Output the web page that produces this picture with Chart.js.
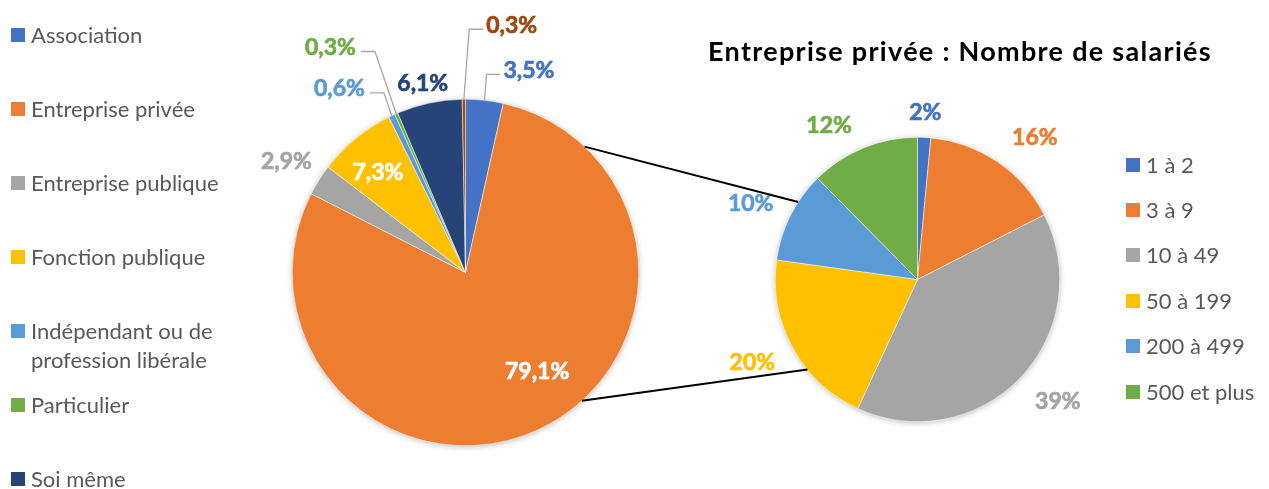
<!DOCTYPE html>
<html lang="fr">
<head>
<meta charset="utf-8">
<script src="https://cdn.jsdelivr.net/npm/chart.js@4/dist/chart.umd.min.js"></script>
<style>
  html, body { margin: 0; padding: 0; background: #fff; }
  body { width: 1269px; height: 489px; position: relative; overflow: hidden; font-family: Lato, "Open Sans", sans-serif; }
  canvas { position: absolute; left: 0; top: 0; }
  #title { position: absolute; left: 660px; width: 600px; top: 33px; text-align: center; font-weight: bold; font-size: 27px; letter-spacing: 1.3px; line-height: 36px; color: #000; white-space: nowrap; }
  .leg { position: absolute; font-size: 22px; line-height: 29px; color: #595959; }
  .leg .sw { position: absolute; left: 0; top: 8px; width: 14px; height: 14px; }
  .leg .tx { display: block; margin-left: 20px; }
</style>
</head>
<body>
<canvas id="pieLeft" width="1269" height="489"></canvas>
<canvas id="pieRight" width="1269" height="489"></canvas>
<div id="title">Entreprise privée : Nombre de salariés</div>
<div id="legendLeft"></div>
<div id="legendRight"></div>
<script>
// Statut de l'employeur (%)
const sectorLabels = ["Association", "Entreprise privée", "Entreprise publique", "Fonction publique", "Indépendant ou de profession libérale", "Particulier", "Soi même", "Autre"];
const sectorValues = [3.5, 79.1, 2.9, 7.3, 0.6, 0.3, 6.1, 0.3];

// Entreprise privée : nombre de salariés (%)
const sizeLabels = ["1 à 2", "3 à 9", "10 à 49", "50 à 199", "200 à 499", "500 et plus"];
const sizeValues = [1.5, 16.0, 39.4, 20.3, 10.4, 12.4];

const sectorColors = ["#4472C4", "#ED7D31", "#A5A5A5", "#FFC000", "#5B9BD5", "#70AD47", "#264478", "#9E480E"];
const sizeColors = ["#4472C4", "#ED7D31", "#A5A5A5", "#FFC000", "#5B9BD5", "#70AD47"];

// placement des étiquettes : dedans / dehors, décalage, trait de rappel
const sectorLabelStyle = [
  { inside: false, dx: 42, dy: -8, leader: true },
  { inside: true, dx: 23, dy: -4, color: "#fff" },
  { inside: false, dx: -14, dy: -7 },
  { inside: true, dx: -15, dy: -12, color: "#fff" },
  { inside: false, dx: -43, dy: -7, leader: true },
  { inside: false, dx: -57, dy: -46, leader: true },
  { inside: false, dx: -2, dy: 2 },
  { inside: false, dx: 48, dy: -52, leader: true }
];
const sizeLabelStyle = [
  { inside: false, dx: 0, dy: -3 },
  { inside: false, dx: 25, dy: -6 },
  { inside: false, dx: 22, dy: 8 },
  { inside: false, dx: -21, dy: 4 },
  { inside: false, dx: -20, dy: -2 },
  { inside: false, dx: -26, dy: -2 }
];

// angles (degrés, sens horaire depuis midi) des traits reliant les deux secteurs
const connectorAngles = [[43.4, 303], [137.8, 230.7]];

const pieShadow = {
  id: "pieShadow",
  beforeDatasetsDraw(chart) {
    const arc = chart.getDatasetMeta(0).data[0];
    const ctx = chart.ctx;
    ctx.save();
    ctx.shadowColor = "rgba(0,0,0,0.35)";
    ctx.shadowBlur = 7;
    ctx.shadowOffsetY = 1;
    ctx.fillStyle = "#fff";
    ctx.beginPath();
    ctx.arc(arc.x, arc.y, arc.outerRadius - 1, 0, Math.PI * 2);
    ctx.fill();
    ctx.restore();
  }
};

const sliceLabels = {
  id: "sliceLabels",
  afterDatasetsDraw(chart, args, opts) {
    const ctx = chart.ctx;
    const meta = chart.getDatasetMeta(0);
    const ds = chart.data.datasets[0];
    ctx.save();
    ctx.font = opts.font;
    ctx.textAlign = "center";
    ctx.textBaseline = "middle";
    meta.data.forEach((arc, i) => {
      const st = opts.styles[i];
      const p = arc.getProps(["x", "y", "startAngle", "endAngle", "outerRadius"], true);
      const mid = (p.startAngle + p.endAngle) / 2;
      const r = st.inside ? p.outerRadius * 0.66 : p.outerRadius + opts.gap;
      const x = p.x + Math.cos(mid) * r + st.dx;
      const y = p.y + Math.sin(mid) * r + st.dy;
      const text = opts.format(ds.data[i]);
      const color = st.color || ds.backgroundColor[i];
      if (st.leader) {
        const w = ctx.measureText(text).width;
        const sx = p.x + Math.cos(mid) * p.outerRadius;
        const sy = p.y + Math.sin(mid) * p.outerRadius;
        const right = x > sx;
        const ex = right ? x - w / 2 - 3 : x + w / 2 + 5;
        const ey = y + 4;
        const kx = right ? ex - 14 : ex + 14;
        ctx.strokeStyle = "#A6A6A6";
        ctx.lineWidth = 1.3;
        ctx.beginPath();
        ctx.moveTo(sx, sy);
        ctx.lineTo(kx, ey);
        ctx.lineTo(ex, ey);
        ctx.stroke();
      }
      ctx.fillStyle = color;
      ctx.strokeStyle = color;
      ctx.lineWidth = 0.7;
      ctx.fillText(text, x, y);
      ctx.strokeText(text, x, y);
    });
    ctx.restore();
  }
};

function pieOptions(padding, styles, format) {
  return {
    responsive: false,
    animation: false,
    layout: { padding: padding },
    plugins: {
      legend: { display: false },
      tooltip: { enabled: false },
      sliceLabels: { font: "bold 23px Lato, 'Open Sans', sans-serif", gap: 22, styles: styles, format: format }
    }
  };
}

const leftChart = new Chart(document.getElementById("pieLeft"), {
  type: "pie",
  data: {
    labels: sectorLabels,
    datasets: [{ data: sectorValues, backgroundColor: sectorColors, borderColor: "#fff", borderWidth: 0.5 }]
  },
  options: pieOptions({ left: 292, right: 630, top: 99, bottom: 43 }, sectorLabelStyle,
    v => v.toFixed(1).replace(".", ",") + "%"),
  plugins: [pieShadow, sliceLabels]
});

const connectors = {
  id: "connectors",
  afterDraw(chart) {
    const a = leftChart.getDatasetMeta(0).data[0];
    const b = chart.getDatasetMeta(0).data[0];
    const pt = (arc, deg) => {
      const t = (deg - 90) * Math.PI / 180;
      return [arc.x + Math.cos(t) * arc.outerRadius, arc.y + Math.sin(t) * arc.outerRadius];
    };
    const ctx = chart.ctx;
    ctx.save();
    ctx.strokeStyle = "#000";
    ctx.lineWidth = 2;
    connectorAngles.forEach(([da, db]) => {
      const p1 = pt(a, da), p2 = pt(b, db);
      ctx.beginPath();
      ctx.moveTo(p1[0], p1[1]);
      ctx.lineTo(p2[0], p2[1]);
      ctx.stroke();
    });
    ctx.restore();
  }
};

new Chart(document.getElementById("pieRight"), {
  type: "pie",
  data: {
    labels: sizeLabels,
    datasets: [{ data: sizeValues, backgroundColor: sizeColors, borderColor: "#fff", borderWidth: 0.5 }]
  },
  options: pieOptions({ left: 775, right: 209, top: 137, bottom: 67 }, sizeLabelStyle,
    v => v.toFixed(0) + "%"),
  plugins: [pieShadow, sliceLabels, connectors]
});

function buildLegend(id, labels, colors, left, firstY, step, count, width) {
  const box = document.getElementById(id);
  for (let i = 0; i < count; i++) {
    const item = document.createElement("div");
    item.className = "leg";
    item.style.left = left + "px";
    item.style.top = (firstY + step * i - 14.5) + "px";
    item.style.width = width + "px";
    item.innerHTML = `<span class="sw" style="background:${colors[i]}"></span><span class="tx">${labels[i]}</span>`;
    box.appendChild(item);
  }
}

// la dernière entrée de la légende de gauche sort du cadre
buildLegend("legendLeft", sectorLabels, sectorColors, 11, 34.5, 74, 7, 220);
buildLegend("legendRight", sizeLabels, sizeColors, 1126, 164, 45.4, 6, 150);
</script>
</body>
</html>
